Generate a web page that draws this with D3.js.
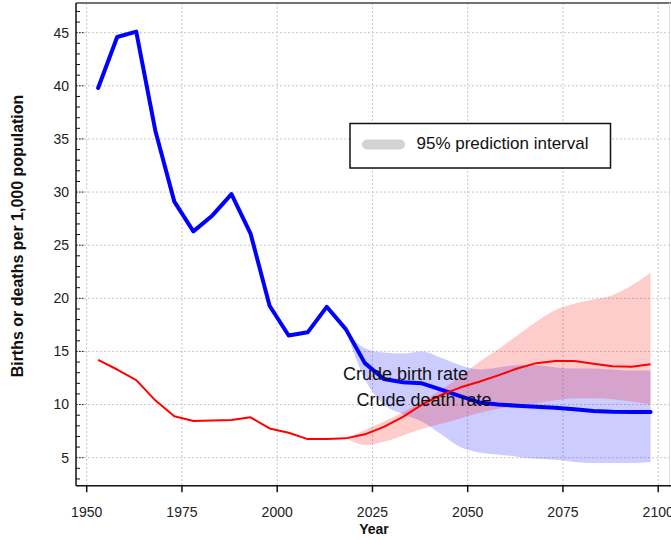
<!DOCTYPE html>
<html>
<head>
<meta charset="utf-8">
<script src="https://cdn.jsdelivr.net/npm/d3@7"></script>
<style>
  html, body { margin: 0; padding: 0; background: #fff; }
  svg { display: block; font-family: "Liberation Sans", Arial, Helvetica, sans-serif; }
</style>
</head>
<body>
<svg id="chart" width="671" height="540"></svg>
<script>
// ---- data ----
const years = [1953, 1958, 1963, 1968, 1973, 1978, 1983, 1988, 1993, 1998,
               2003, 2008, 2013, 2018, 2023, 2028, 2033, 2038, 2043, 2048,
               2053, 2058, 2063, 2068, 2073, 2078, 2083, 2088, 2093, 2098];
const birthRate = [39.8, 44.6, 45.1, 35.8, 29.1, 26.3, 27.8, 29.8, 26.1, 19.3,
                   16.5, 16.8, 19.2, 17.1, 13.9, 12.4, 12.1, 12.0, 11.4, 10.8,
                   10.2, 10.0, 9.9, 9.8, 9.7, 9.55, 9.4, 9.33, 9.3, 9.3];
const deathRate = [14.2, 13.3, 12.3, 10.4, 8.9, 8.45, 8.5, 8.55, 8.8, 7.75,
                   7.35, 6.75, 6.75, 6.82, 7.2, 7.9, 8.85, 10.0, 10.9, 11.6,
                   12.15, 12.75, 13.4, 13.9, 14.1, 14.1, 13.85, 13.6, 13.56, 13.8];
const bandYears = [2018, 2023, 2028, 2033, 2038, 2043, 2048, 2053, 2058,
                   2063, 2068, 2073, 2078, 2083, 2088, 2093, 2098];
const birthLo = [17.1, 12.4, 10.0, 9.1, 8.4, 7.2, 6.0, 5.5, 5.3, 5.1, 4.9, 4.8, 4.6, 4.5, 4.5, 4.5, 4.6];
const birthHi = [17.1, 15.3, 14.9, 14.8, 15.0, 14.4, 13.7, 13.3, 13.5, 13.7, 13.7, 13.5, 13.4, 13.4, 13.3, 13.2, 13.2];
const deathLo = [6.82, 6.2, 6.5, 7.1, 7.7, 8.2, 8.7, 9.2, 9.6, 9.9, 10.1, 10.4, 10.6, 10.6, 10.5, 10.3, 10.0];
const deathHi = [6.82, 7.6, 8.4, 9.3, 10.3, 11.4, 12.6, 14.0, 15.2, 16.5, 17.8, 18.9, 19.5, 19.9, 20.3, 21.2, 22.4];
const xTicks = [1950, 1975, 2000, 2025, 2050, 2075, 2100];
const yTicks = [5, 10, 15, 20, 25, 30, 35, 40, 45];
const yMinorTicks = [3, 4, 6, 7, 8, 9, 11, 12, 13, 14, 16, 17, 18, 19, 21, 22, 23, 24,
                     26, 27, 28, 29, 31, 32, 33, 34, 36, 37, 38, 39, 41, 42, 43, 44, 46, 47];
const seriesLabels = ["Crude birth rate", "Crude death rate"];
const legendLabel = "95% prediction interval";

// ---- layout ----
(function () {
const svg = d3.select("#chart");
const pL = 76, pR = 671, pT = 3, pB = 485.7;
const x = d3.scaleLinear().domain([1950, 2100]).range([86.7, 658.2]);
const y = d3.scaleLinear().domain([5, 45]).range([457.7, 32.7]);

// grid
const grid = svg.append("g");
grid.selectAll("line.vg").data(xTicks).join("line")
  .attr("x1", d => x(d)).attr("x2", d => x(d))
  .attr("y1", pT).attr("y2", pB)
  .attr("stroke", "#c8c8c8").attr("stroke-width", 1).attr("stroke-dasharray", "2,2");
grid.selectAll("line.hg").data(yTicks).join("line")
  .attr("x1", pL).attr("x2", pR)
  .attr("y1", d => y(d)).attr("y2", d => y(d))
  .attr("stroke", "#c8c8c8").attr("stroke-width", 1).attr("stroke-dasharray", "2,2");

// bands
const bandB = bandYears.map((yr, i) => ({yr, lo: birthLo[i], hi: birthHi[i]}));
const bandD = bandYears.map((yr, i) => ({yr, lo: deathLo[i], hi: deathHi[i]}));
const area = d3.area().x(d => x(d.yr)).y0(d => y(d.lo)).y1(d => y(d.hi)).curve(d3.curveMonotoneX);
svg.append("path").datum(bandB).attr("d", area).attr("fill", "#0000ff").attr("fill-opacity", 0.2);
svg.append("path").datum(bandD).attr("d", area).attr("fill", "#ff0000").attr("fill-opacity", 0.2);

// lines
const line = d3.line().x((d, i) => x(years[i])).y(d => y(d));
svg.append("path").datum(birthRate).attr("d", line)
  .attr("fill", "none").attr("stroke", "#0000ff").attr("stroke-width", 4)
  .attr("stroke-linejoin", "round").attr("stroke-linecap", "round");
svg.append("path").datum(deathRate).attr("d", line)
  .attr("fill", "none").attr("stroke", "#ff0000").attr("stroke-width", 2)
  .attr("stroke-linejoin", "round");

// series labels
svg.append("text").attr("x", 343).attr("y", 380).attr("font-size", 18).attr("fill", "#111").text(seriesLabels[0]);
svg.append("text").attr("x", 356.5).attr("y", 405.5).attr("font-size", 18).attr("fill", "#111").text(seriesLabels[1]);

// axes lines
svg.append("line").attr("x1", pL).attr("x2", pR).attr("y1", pT).attr("y2", pT)
  .attr("stroke", "#444").attr("stroke-width", 1.5);
svg.append("line").attr("x1", 669.5).attr("x2", 669.5).attr("y1", pT).attr("y2", pB)
  .attr("stroke", "#e0e0e0").attr("stroke-width", 1);
svg.append("line").attr("x1", pL).attr("x2", pL).attr("y1", pT).attr("y2", pB)
  .attr("stroke", "#111").attr("stroke-width", 1.5);
svg.append("line").attr("x1", pL).attr("x2", pR).attr("y1", pB).attr("y2", pB)
  .attr("stroke", "#111").attr("stroke-width", 1.5);

// y ticks
svg.selectAll("line.ymin").data(yMinorTicks).join("line")
  .attr("x1", pL).attr("x2", pL + 4)
  .attr("y1", d => y(d)).attr("y2", d => y(d))
  .attr("stroke", "#111").attr("stroke-width", 1);
svg.selectAll("line.ymaj").data(yTicks).join("line")
  .attr("x1", pL).attr("x2", pL + 9)
  .attr("y1", d => y(d)).attr("y2", d => y(d))
  .attr("stroke", "#111").attr("stroke-width", 1).attr("stroke-dasharray", "1.5,1.5");
svg.selectAll("text.ylab").data(yTicks).join("text")
  .attr("x", 69).attr("y", d => y(d)).attr("dy", "0.35em")
  .attr("text-anchor", "end").attr("font-size", 14).attr("fill", "#222")
  .text(d => d);

// x ticks
svg.selectAll("line.xt").data(xTicks).join("line")
  .attr("x1", d => x(d)).attr("x2", d => x(d))
  .attr("y1", pB).attr("y2", pB + 6.5)
  .attr("stroke", "#111").attr("stroke-width", 1.5);
svg.selectAll("text.xlab").data(xTicks).join("text")
  .attr("x", d => x(d)).attr("y", 517)
  .attr("text-anchor", "middle").attr("font-size", 14).attr("fill", "#222")
  .text(d => d);

// axis titles
svg.append("text").attr("x", 374).attr("y", 533.5).attr("text-anchor", "middle")
  .attr("font-size", 14).attr("font-weight", "bold").attr("fill", "#111").text("Year");
svg.append("text").attr("transform", "translate(23,236) rotate(-90)")
  .attr("text-anchor", "middle").attr("font-size", 16).attr("font-weight", "bold").attr("fill", "#111")
  .text("Births or deaths per 1,000 population");

// legend
const lg = svg.append("g");
lg.append("rect").attr("x", 350).attr("y", 123.5).attr("width", 260.5).attr("height", 44.5)
  .attr("fill", "#fff").attr("stroke", "#111").attr("stroke-width", 1.5);
lg.append("line").attr("x1", 367).attr("x2", 400).attr("y1", 144.5).attr("y2", 144.5)
  .attr("stroke", "#d3d3d3").attr("stroke-width", 10).attr("stroke-linecap", "round");
lg.append("text").attr("x", 416.5).attr("y", 143.5).attr("dy", "0.35em")
  .attr("font-size", 17).attr("fill", "#111").text(legendLabel);
})();
</script>
</body>
</html>
